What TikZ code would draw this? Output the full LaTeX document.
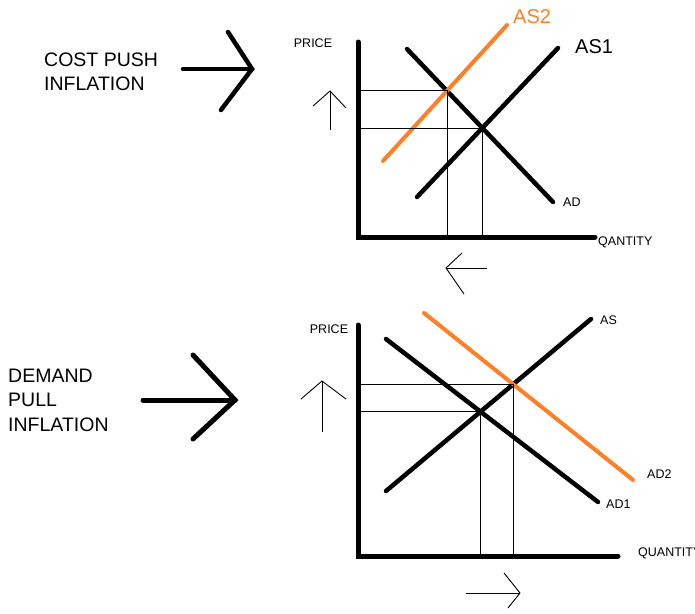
\documentclass[tikz,border=0pt]{standalone}
\usepackage{fontspec}
\setmainfont{Liberation Sans}
\usetikzlibrary{intersections}
\definecolor{pOrange}{HTML}{FF7F27}
\tikzset{
  axs/.style  = {line width=5pt, line cap=round},
  crv/.style  = {line width=4.5pt, line cap=round},
  crvo/.style = {crv, draw=pOrange, line width=4pt},
  gd/.style   = {line width=0.9pt},
  bigar/.style = {line width=4.5pt, line cap=round, line join=miter},
  lbl/.style  = {font=\fontsize{12.5}{14}\selectfont, inner sep=0pt},
  lblb/.style = {font=\fontsize{20}{23}\selectfont, inner sep=0pt},
  ttl/.style  = {font=\fontsize{19.5}{23.5}\selectfont, inner sep=0pt, align=left, anchor=west},
}
\begin{document}
\begin{tikzpicture}[x=1pt, y=-1pt]
  \useasboundingbox (0,0) rectangle (695,613);

  % cost push
  \node[ttl] (cp) at (44,72) {COST PUSH\\INFLATION};
  \coordinate (cpa) at (183,69);
  \coordinate (cpb) at (252,69);
  \draw[bigar] (cpa) -- (cpb);
  \draw[bigar] (228,32) -- (cpb) -- (221,110);

  \coordinate (o1) at (358,237);
  \draw[axs] (358,42) -- (o1) -- (595,237);
  \node[lbl] (p1) at (313,43) {PRICE};
  \node[lbl, anchor=west] (q1) at (598,242) {QANTITY};

  \draw[crv, name path=ad] (407,49) -- (553,202);
  \draw[crv, name path=as1] (417,197) -- (558,48);
  \draw[crvo, name path=as2] (383,161) -- (507,25);
  \node[lbl, anchor=west] (adl) at (563,202) {AD};
  \node[lblb, anchor=west] (as1l) at (575,47) {AS1};
  \node[lblb, anchor=west, text=pOrange] (as2l) at (513,17) {AS2};

  \path[name intersections={of=ad and as1, by=e1}];
  \path[name intersections={of=ad and as2, by=e2}];
  \draw[gd] (o1 |- e1) -- (e1) -- (e1 |- o1);
  \draw[gd] (o1 |- e2) -- (e2) -- (e2 |- o1);

  \draw[gd] (330,130) -- (330,91);
  \draw[gd] (313,106) -- (330,91) -- (346,108);
  \draw[gd] (487,268) -- (446,268);
  \draw[gd] (462,253) -- (446,268) -- (464,294);

  % demand pull
  \node[ttl, font=\fontsize{19.5}{24.5}\selectfont] (dp) at (8,400) {DEMAND\\PULL\\INFLATION};
  \coordinate (dpa) at (143,400);
  \coordinate (dpb) at (235,400);
  \draw[bigar, line width=5pt] (dpa) -- (dpb);
  \draw[bigar, line width=5pt] (193,355) -- (dpb) -- (193,439);

  \coordinate (o2) at (358,556);
  \draw[axs] (358,325) -- (o2) -- (618,556);
  \node[lbl] (p2) at (329,329) {PRICE};
  \node[lbl, anchor=west] (q2) at (638,553) {QUANTITY};

  \draw[crv, name path=as] (386,491) -- (591,319);
  \draw[crv, name path=ad1] (386,339) -- (598,502);
  \draw[crvo, name path=ad2] (424,313) -- (633,480);
  \node[lbl, anchor=west] (asl) at (600,320) {AS};
  \node[lbl, anchor=west] (ad1l) at (606,504) {AD1};
  \node[lbl, anchor=west] (ad2l) at (647,474) {AD2};

  \path[name intersections={of=as and ad1, by=f1}];
  \path[name intersections={of=as and ad2, by=f2}];
  \draw[gd] (o2 |- f1) -- (f1) -- (f1 |- o2);
  \draw[gd] (o2 |- f2) -- (f2) -- (f2 |- o2);

  \draw[gd] (322,432) -- (322,381);
  \draw[gd] (301,399) -- (322,381) -- (346,399);
  \draw[gd] (466,593) -- (520,593);
  \draw[gd] (504,573) -- (520,593) -- (508,608);
\end{tikzpicture}
\end{document}
